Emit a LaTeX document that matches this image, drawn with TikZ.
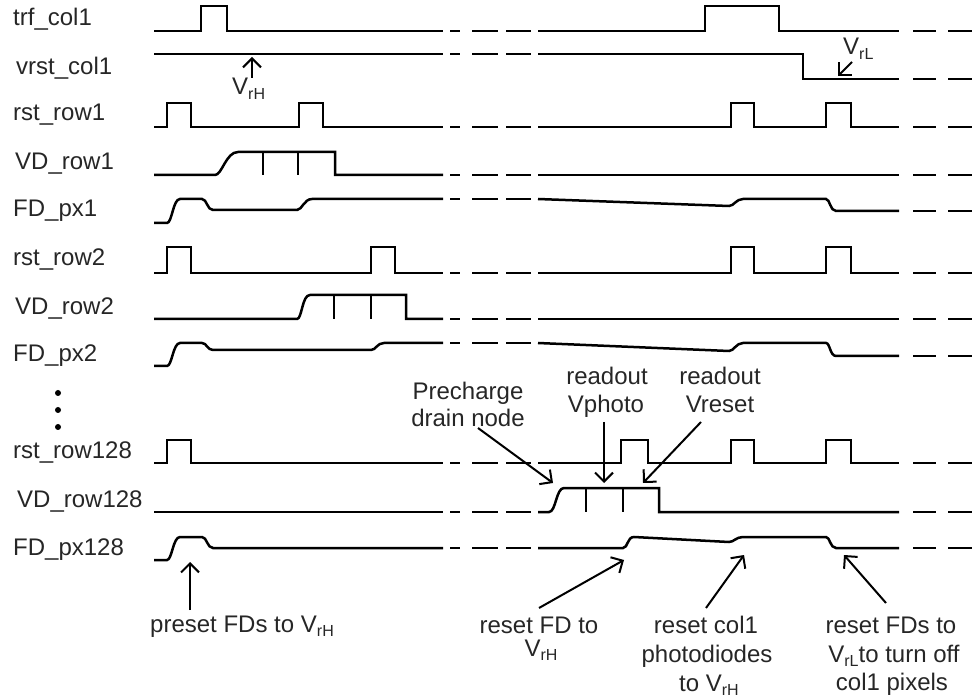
\documentclass[tikz,border=0pt]{standalone}
\usepackage{fontspec}
\setmainfont{Liberation Sans}
\usetikzlibrary{arrows.meta}
\newcommand\lowsub[1]{\raisebox{-0.35ex}{\fontsize{16}{16}\selectfont #1}}
\newcommand\gapdash[2]{%
  \draw[wave] (450,#1)--(460,#1) (472,#1)--(498,#1) (506,#1)--(531,#1)
              (913,#2)--(936,#2) (948,#2)--(972,#2);}
\begin{document}
\begin{tikzpicture}[x=1pt,y=-1pt,
  wave/.style={line width=2.5pt, line join=miter},
  lbl/.style={anchor=base west, inner sep=0pt, font=\fontsize{24}{28}\selectfont, text=black!85},
  note/.style={anchor=base, inner sep=0pt, font=\fontsize{24}{28}\selectfont, text=black!85},
  ann/.style={line width=2pt, -{Straight Barb[length=9pt,width=18pt,line width=2pt]}},
]
\useasboundingbox (0,0) rectangle (972,700);

% ---------- signal labels ----------
\node[lbl] (ltrf)  at (13,26)  {trf\_col1};
\node[lbl] (lvrst) at (16,75)  {vrst\_col1};
\node[lbl] (lr1)   at (13,121) {rst\_row1};
\node[lbl] (lv1)   at (15,170) {VD\_row1};
\node[lbl] (lf1)   at (13,217) {FD\_px1};
\node[lbl] (lr2)   at (13,266) {rst\_row2};
\node[lbl] (lv2)   at (15,315) {VD\_row2};
\node[lbl] (lf2)   at (13,362) {FD\_px2};
\node[lbl] (lr128) at (13,458) {rst\_row128};
\node[lbl] (lv128) at (17,507) {VD\_row128};
\node[lbl] (lf128) at (13,555) {FD\_px128};

% vertical dots
\fill (58,393) circle (3) (58,410) circle (3) (58,427) circle (3);

% ---------- trf_col1 ----------
\draw[wave] (154,31) -- (201,31) -- (201,6) -- (227,6) -- (227,31) -- (443,31);
\draw[wave] (538,31) -- (705,31) -- (705,6) -- (779,6) -- (779,31) -- (899,31);
\gapdash{31}{31}

% ---------- vrst_col1 ----------
\draw[wave] (154,54) -- (443,54);
\draw[wave] (538,54) -- (803,54) -- (803,79) -- (899,79);
\gapdash{54}{79}

% ---------- rst_row1 ----------
\draw[wave] (154,127) -- (167,127) -- (167,103) -- (191,103) -- (191,127) -- (299,127) -- (299,103) -- (323,103) -- (323,127) -- (443,127);
\draw[wave] (538,127) -- (731,127) -- (731,103) -- (754,103) -- (754,127) -- (826,127) -- (826,103) -- (851,103) -- (851,127) -- (899,127);
\gapdash{127}{127}

% ---------- VD_row1 ----------
\draw[wave] (154,175) -- (215,175) .. controls (222,175) and (226,152) .. (238,152) -- (335,152) -- (335,175) -- (443,175);
\draw[wave] (263,152) -- (263,175) (298,152) -- (298,175);
\draw[wave] (538,175) -- (899,175);
\gapdash{175}{175}

% ---------- FD_px1 ----------
\draw[wave] (154,223) -- (167,223) .. controls (172,223) and (173,199) .. (180,199) -- (202,199) .. controls (207,199) and (207,210) .. (213,210) -- (297,210) .. controls (302,210) and (304,199) .. (312,199) -- (443,199);
\draw[wave] (538,199) -- (729,206) .. controls (734,206) and (736,199) .. (743,199) -- (826,199) .. controls (830,199) and (830,211) .. (836,211) -- (899,211);
\gapdash{199}{211}

% ---------- rst_row2 ----------
\draw[wave] (154,273) -- (167,273) -- (167,247) -- (191,247) -- (191,273) -- (371,273) -- (371,247) -- (395,247) -- (395,273) -- (443,273);
\draw[wave] (538,273) -- (731,273) -- (731,247) -- (754,247) -- (754,273) -- (826,273) -- (826,247) -- (851,247) -- (851,273) -- (899,273);
\gapdash{273}{273}

% ---------- VD_row2 ----------
\draw[wave] (154,319) -- (297,319) .. controls (302,319) and (302,295) .. (310,295) -- (406,295) -- (406,319) -- (443,319);
\draw[wave] (334,295) -- (334,319) (371,295) -- (371,319);
\draw[wave] (538,319) -- (899,319);
\gapdash{319}{319}

% ---------- FD_px2 ----------
\draw[wave] (154,366) -- (167,366) .. controls (172,366) and (173,343) .. (180,343) -- (202,343) .. controls (207,343) and (207,350) .. (213,350) -- (371,350) .. controls (376,350) and (377,343) .. (384,343) -- (443,343);
\draw[wave] (538,343) -- (729,351) .. controls (734,351) and (736,343) .. (743,343) -- (826,343) .. controls (830,343) and (830,356) .. (836,356) -- (899,356);
\gapdash{343}{356}

% ---------- rst_row128 ----------
\draw[wave] (154,463) -- (167,463) -- (167,440) -- (191,440) -- (191,463) -- (443,463);
\draw[wave] (538,463) -- (621,463) -- (621,440) -- (648,440) -- (648,463) -- (731,463) -- (731,440) -- (754,440) -- (754,463) -- (826,463) -- (826,440) -- (851,440) -- (851,463) -- (899,463);
\gapdash{463}{463}

% ---------- VD_row128 ----------
\draw[wave] (154,512) -- (443,512);
\draw[wave] (538,512) -- (549,512) .. controls (556,512) and (556,488) .. (564,488) -- (659,488) -- (659,512) -- (899,512);
\draw[wave] (586,488) -- (586,512) (623,488) -- (623,512);
\gapdash{512}{512}

% ---------- FD_px128 ----------
\draw[wave] (154,560) -- (167,560) .. controls (172,560) and (173,537) .. (180,537) -- (202,537) .. controls (207,537) and (207,548) .. (213,548) -- (443,548);
\draw[wave] (538,548) -- (623,548) .. controls (628,548) and (627,537) .. (634,537) -- (729,542) .. controls (734,542) and (736,537) .. (743,537) -- (826,537) .. controls (830,537) and (830,548) .. (836,548) -- (899,548);
\gapdash{548}{548}

% ---------- level labels ----------
\node[lbl] (vrh) at (232,95) {V\lowsub{rH}};
\coordinate (vrhS) at (252,78);
\coordinate (vrhT) at (252,57);
\draw[ann] (vrhS) -- (vrhT);

\node[lbl] (vrl) at (843,55) {V\lowsub{rL}};
\coordinate (vrlS) at (852,62);
\coordinate (vrlT) at (838,76);
\draw[ann] (vrlS) -- (vrlT);

% ---------- annotations (middle) ----------
\node[note] (pc1) at (468,400) {Precharge};
\node[note] (pc2) at (468,427) {drain node};
\node[note] (ro1) at (607,385) {readout};
\node[note] (ro2) at (606,413) {Vphoto};
\node[note] (rs1) at (720,385) {readout};
\node[note] (rs2) at (720,413) {Vreset};

\coordinate (pcS) at (478,428);
\coordinate (pcT) at (553,483);
\coordinate (roS) at (604,422);
\coordinate (roT) at (604,483);
\coordinate (rsS) at (701,422);
\coordinate (rsT) at (643,483);
\draw[ann] (pcS) -- (pcT);
\draw[ann] (roS) -- (roT);
\draw[ann] (rsS) -- (rsT);

% ---------- annotations (bottom) ----------
\node[lbl] (pre) at (150,632) {preset FDs to V\lowsub{rH}};
\coordinate (preS) at (190,610);
\coordinate (preT) at (190,562);
\draw[ann] (preS) -- (preT);

\node[note] (rf1) at (539,633) {reset FD to};
\node[note] (rf2) at (541,656) {V\lowsub{rH}};
\coordinate (rfS) at (539,608);
\coordinate (rfT) at (624,560);
\draw[ann] (rfS) -- (rfT);

\node[note] (rc1) at (706,633) {reset col1};
\node[note] (rc2) at (707,662) {photodiodes};
\node[note] (rc3) at (709,691) {to V\lowsub{rH}};
\coordinate (rcS) at (706,608);
\coordinate (rcT) at (744,555);
\draw[ann] (rcS) -- (rcT);

\node[note] (rd1) at (891,633) {reset FDs to};
\node[note] (rd2) at (894,662) {V\lowsub{rL}to turn off};
\node[note] (rd3) at (892,690) {col1 pixels};
\coordinate (rdS) at (886,603);
\coordinate (rdT) at (844,555);
\draw[ann] (rdS) -- (rdT);
\end{tikzpicture}
\end{document}
